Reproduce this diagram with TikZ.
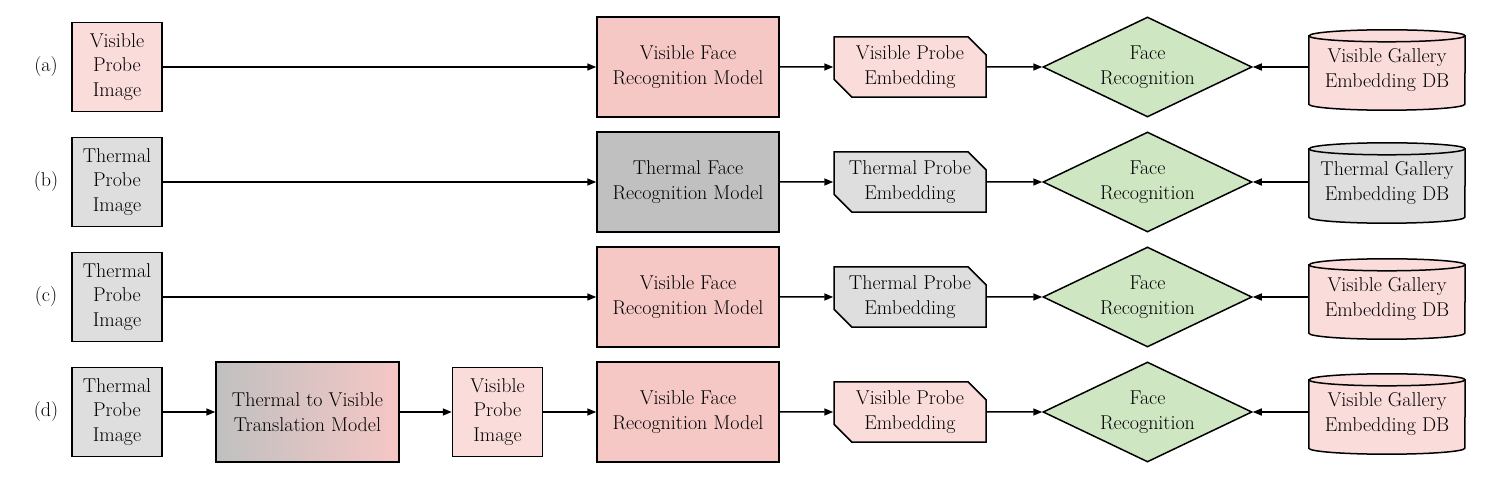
\documentclass[tikz,border=0pt]{standalone}
\usetikzlibrary{shapes.geometric,shapes.misc,arrows.meta}
\definecolor{vislight}{HTML}{FADCDB}
\definecolor{vismodel}{HTML}{F5C7C5}
\definecolor{thlight}{HTML}{DEDEDE}
\definecolor{thmodel}{HTML}{C0C0C0}
\definecolor{recgreen}{HTML}{CFE6C3}
\pgfdeclarelayer{bg}
\pgfsetlayers{bg,main}
\newcommand{\drawdb}[2]{%
  \begin{pgfonlayer}{bg}
  \filldraw[fill=#2,draw=black,line width=1.5pt]
    ([yshift=-6pt]#1.north west) -- ([yshift=6pt]#1.south west)
    arc[start angle=180,end angle=360,x radius=78pt,y radius=6pt]
    -- ([yshift=-6pt]#1.north east)
    arc[start angle=0,end angle=180,x radius=78pt,y radius=6pt] -- cycle;
  \draw[line width=1.5pt] ([yshift=-6pt]#1.north west)
    arc[start angle=180,end angle=360,x radius=78pt,y radius=6pt];
  \end{pgfonlayer}}
\begin{document}
\begin{tikzpicture}[x=1pt,y=1pt,
  every node/.style={font=\fontsize{20}{24.5}\selectfont, align=center},
  box/.style={draw=black, line width=1.5pt, inner sep=0pt},
  probe/.style={box, minimum width=90pt, minimum height=89pt},
  model/.style={box, minimum width=182pt, minimum height=100pt},
  emb/.style={box, chamfered rectangle, chamfered rectangle corners={north east,south west},
    chamfered rectangle xsep=9pt, chamfered rectangle ysep=9pt,
    minimum width=152pt, minimum height=57pt},
  dec/.style={box, diamond, shape aspect=2.1, minimum width=209pt, minimum height=100pt, fill=recgreen},
  db/.style={minimum width=156pt, minimum height=80pt, inner sep=0pt},
  arr/.style={line width=1.5pt, -{Triangle[length=9pt,width=7pt]}},
  rowlab/.style={inner sep=0pt}
]
\useasboundingbox (0,0) rectangle (1510,482);

% Row (a)
\node[rowlab] (la) at (46,415) {(a)};
\node[probe, fill=vislight] (pa) at (117,415) {Visible\\Probe\\Image};
\node[model, fill=vismodel] (ma) at (688,415) {Visible Face\\Recognition Model};
\node[emb, fill=vislight] (ea) at (910,415) {Visible Probe\\Embedding};
\node[dec] (ra) at (1147.5,415) {Face\\Recognition};
\node[db] (ga) at (1387,412) {Visible Gallery\\Embedding DB};
\drawdb{ga}{vislight}
\draw[arr] (pa) -- (ma);
\draw[arr] (ma) -- (ea);
\draw[arr] (ea) -- (ra);
\draw[arr] (ga.west |- ra) -- (ra);

% Row (b)
\node[rowlab] (lb) at (46,300) {(b)};
\node[probe, fill=thlight] (pb) at (117,300) {Thermal\\Probe\\Image};
\node[model, fill=thmodel] (mb) at (688,300) {Thermal Face\\Recognition Model};
\node[emb, fill=thlight] (eb) at (910,300) {Thermal Probe\\Embedding};
\node[dec] (rb) at (1147.5,300) {Face\\Recognition};
\node[db] (gb) at (1387,299) {Thermal Gallery\\Embedding DB};
\drawdb{gb}{thlight}
\draw[arr] (pb) -- (mb);
\draw[arr] (mb) -- (eb);
\draw[arr] (eb) -- (rb);
\draw[arr] (gb.west |- rb) -- (rb);

% Row (c)
\node[rowlab] (lc) at (46,185) {(c)};
\node[probe, fill=thlight] (pc) at (117,185) {Thermal\\Probe\\Image};
\node[model, fill=vismodel] (mc) at (688,185) {Visible Face\\Recognition Model};
\node[emb, fill=thlight] (ec) at (910,185) {Thermal Probe\\Embedding};
\node[dec] (rc) at (1147.5,185) {Face\\Recognition};
\node[db] (gc) at (1387,183) {Visible Gallery\\Embedding DB};
\drawdb{gc}{vislight}
\draw[arr] (pc) -- (mc);
\draw[arr] (mc) -- (ec);
\draw[arr] (ec) -- (rc);
\draw[arr] (gc.west |- rc) -- (rc);

% Row (d)
\node[rowlab] (ld) at (46,70) {(d)};
\node[probe, fill=thlight] (pd) at (117,70) {Thermal\\Probe\\Image};
\node[box, minimum width=183pt, minimum height=100pt, left color=thmodel, right color=vismodel] (td) at (307.5,70) {Thermal to Visible\\Translation Model};
\node[probe, fill=vislight] (vd) at (497.5,70) {Visible\\Probe\\Image};
\node[model, fill=vismodel] (md) at (688,70) {Visible Face\\Recognition Model};
\node[emb, fill=vislight] (ed) at (910,70) {Visible Probe\\Embedding};
\node[dec] (rd) at (1147.5,70) {Face\\Recognition};
\node[db] (gd) at (1387,68) {Visible Gallery\\Embedding DB};
\drawdb{gd}{vislight}
\draw[arr] (pd) -- (td);
\draw[arr] (td) -- (vd);
\draw[arr] (vd) -- (md);
\draw[arr] (md) -- (ed);
\draw[arr] (ed) -- (rd);
\draw[arr] (gd.west |- rd) -- (rd);
\end{tikzpicture}
\end{document}
